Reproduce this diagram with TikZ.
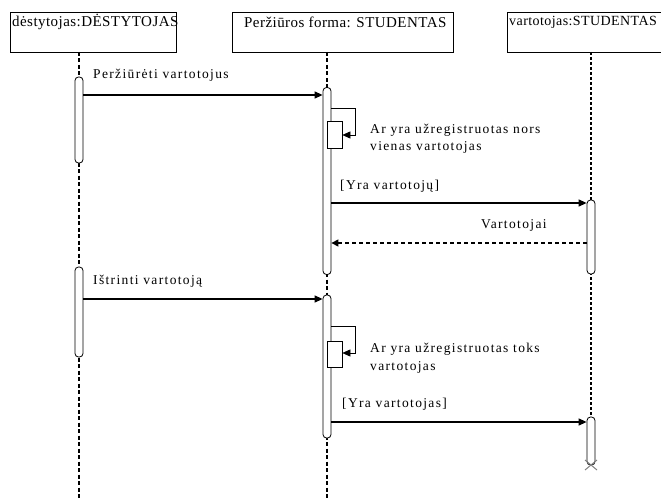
\documentclass[tikz,border=0pt]{standalone}
\usepackage{fontspec}
\setmainfont{Liberation Serif}
\newfontfamily\boxfont[LetterSpace=3]{Liberation Serif}
\newfontfamily\msgfont[LetterSpace=10]{Liberation Serif}
\usetikzlibrary{arrows.meta}
\begin{document}
\begin{tikzpicture}[x=1pt,y=-1pt,
  objbox/.style={draw,line width=0.9pt,inner sep=0pt},
  objlabel/.style={anchor=west,inner sep=0pt,font=\boxfont\fontsize{15}{17}\selectfont},
  lifeline/.style={line width=1.2pt,dash pattern=on 4pt off 2.5pt},
  lifedot/.style={line width=1.6pt,dash pattern=on 3pt off 2pt},
  actbar/.style={draw,line width=0.8pt,fill=white,rounded corners=3.5pt,minimum width=8pt,inner sep=0pt},
  selfbox/.style={draw,line width=0.7pt,fill=white},
  msg/.style={line width=1.2pt,-{Triangle[length=8pt,width=7pt]}},
  reply/.style={line width=1.2pt,dash pattern=on 4pt off 3pt,-{Triangle[length=7pt,width=7pt]}},
  selfmsg/.style={line width=0.7pt,-{Triangle[length=8pt,width=7pt]}},
  lbl/.style={anchor=west,inner sep=0pt,font=\msgfont\fontsize{13.5}{15}\selectfont}]
\useasboundingbox (0,0) rectangle (661,500);

% object boxes
\draw[objbox] (10,12) rectangle (176,52);
\draw[objbox] (232,12) rectangle (453,52);
\draw[objbox] (507,12) rectangle (670,52);
\node[objlabel] (o1) at (12,22) {dėstytojas:DĖSTYTOJAS};
\node[objlabel] (o2) at (244,22) {Peržiūros forma: STUDENTAS};
\node[objlabel,font=\boxfont\fontsize{14}{16}\selectfont] (o3) at (509,22) {vartotojas:STUDENTAS};

% lifelines
\coordinate (l1t) at (79,52);  \coordinate (l1b) at (79,500);
\coordinate (l2t) at (327,52); \coordinate (l2b) at (327,500);
\coordinate (l3t) at (591,52); \coordinate (l3b) at (591,465);
\draw[lifeline] (l1t) -- (l1b);
\draw[lifeline] (l2t) -- (l2b);
\draw[lifedot] (l3t) -- (l3b);

% activation bars
\node[actbar,minimum height=86pt] (a1) at (79,120) {};
\node[actbar,minimum height=90pt] (a2) at (79,312) {};
\node[actbar,minimum height=187pt] (b1) at (327,181) {};
\node[actbar,minimum height=143pt] (b2) at (327,366.5) {};
\node[actbar,minimum height=74pt] (c1) at (591,237) {};
\node[actbar,minimum height=48pt] (c2) at (591,441) {};

% self-call boxes
\node[selfbox,minimum width=15pt,minimum height=27pt,inner sep=0pt] (s1) at (334.5,134.5) {};
\node[selfbox,minimum width=15pt,minimum height=26pt,inner sep=0pt] (s2) at (334.5,354) {};

% destruction mark
\draw[gray,line width=1pt] (585,460) -- (597,470) (585,470) -- (597,460);

% messages
\draw[msg] (a1.east |- 0,95) -- (b1.west |- 0,95);
\node[lbl] (m1) at (93,75) {Peržiūrėti vartotojus};

\coordinate (r1a) at (355,108);
\coordinate (r1b) at (355,135);
\draw[selfmsg] (b1.east |- r1a) -- (r1a) -- (r1b) -- (s1.east |- r1b);
\node[lbl] (t1) at (370,130) {Ar yra užregistruotas nors};
\node[lbl] (t1b) at (370,147) {vienas vartotojas};

\draw[msg] (b1.east |- 0,203) -- (c1.west |- 0,203);
\node[lbl] (m2) at (340,186) {[Yra vartotojų]};

\draw[reply] (c1.west |- 0,243) -- (b1.east |- 0,243);
\node[lbl] (m3) at (481,225) {Vartotojai};

\draw[msg] (a2.east |- 0,299) -- (b2.west |- 0,299);
\node[lbl] (m4) at (93,281) {Ištrinti vartotoją};

\coordinate (r2a) at (355,326);
\coordinate (r2b) at (355,353);
\draw[selfmsg] (b2.east |- r2a) -- (r2a) -- (r2b) -- (s2.east |- r2b);
\node[lbl] (t2) at (370,349) {Ar yra užregistruotas toks};
\node[lbl] (t2b) at (370,367) {vartotojas};

\draw[msg] (b2.east |- 0,422) -- (c2.west |- 0,422);
\node[lbl] (m5) at (342,404) {[Yra vartotojas]};
\end{tikzpicture}
\end{document}
